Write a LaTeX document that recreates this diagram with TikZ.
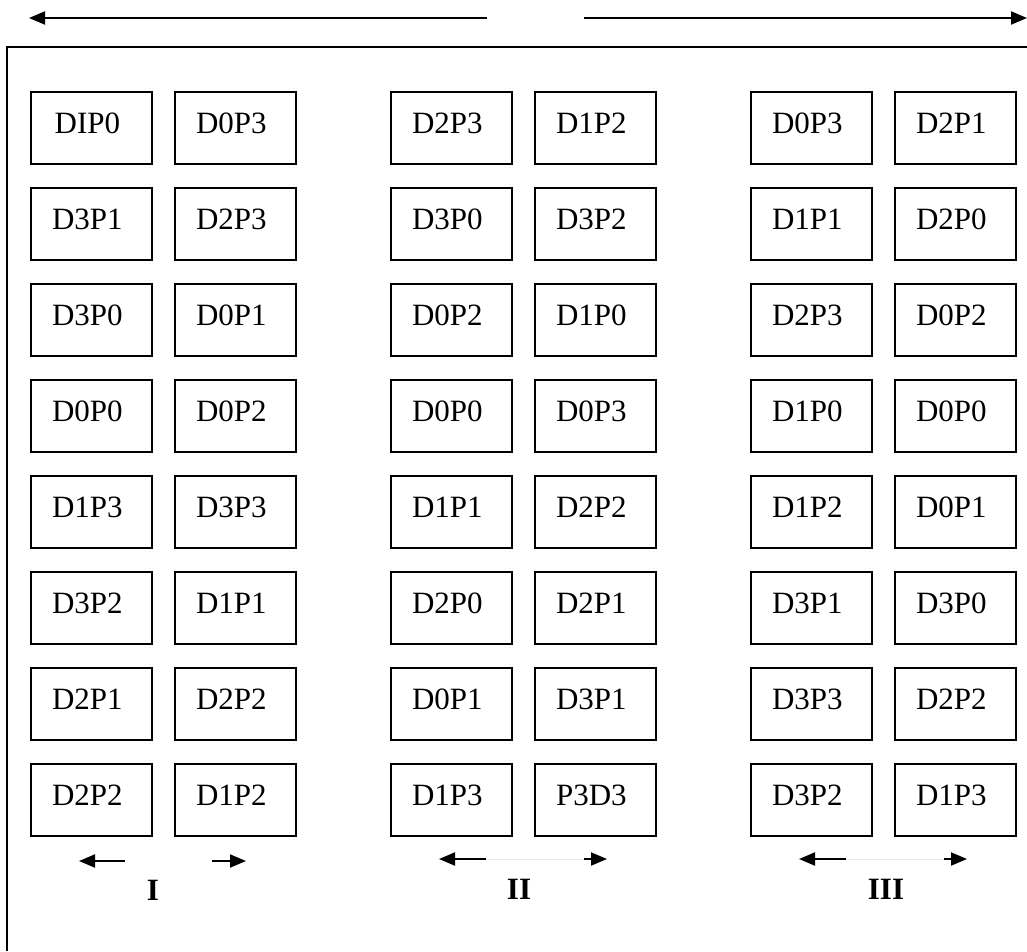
\documentclass[tikz,border=0pt]{standalone}
\usepackage{fontspec}
\setmainfont{Liberation Serif}
\usetikzlibrary{arrows.meta}
\begin{document}
\begin{tikzpicture}[x=1pt,y=-1pt,
  cell/.style={draw=black, line width=1.8pt, minimum width=121pt, minimum height=72pt, inner sep=0pt, anchor=north west},
  celltext/.style={font=\fontsize{31}{36}\selectfont, inner sep=0pt, text depth=0pt, xshift=-4pt, yshift=5pt},
  numlab/.style={font=\fontsize{31}{36}\selectfont\bfseries, inner sep=0pt, text depth=0pt},
  arr/.style={line width=2pt, -{Triangle[length=16pt,width=13pt]}},
  faint/.style={draw=black!8, line width=1pt},
  frameline/.style={line width=2pt}]
\useasboundingbox (0,0) rectangle (1027,951);
% top arrows
\coordinate (tl0) at (487,18);
\coordinate (tl1) at (29,18);
\coordinate (tr0) at (584,18);
\coordinate (tr1) at (1027,18);
\draw[arr] (tl0) -- (tl1);
\draw[arr] (tr0) -- (tr1);
% frame (left and top edges)
\coordinate (fa) at (7,951);
\coordinate (fb) at (7,47);
\coordinate (fc) at (1027,47);
\draw[frameline] (fa) -- (fb) -- (fc);
% cells
\foreach \c/\x/\labs in {
  1/30/{DIP0,D3P1,D3P0,D0P0,D1P3,D3P2,D2P1,D2P2},
  2/174/{D0P3,D2P3,D0P1,D0P2,D3P3,D1P1,D2P2,D1P2},
  3/390/{D2P3,D3P0,D0P2,D0P0,D1P1,D2P0,D0P1,D1P3},
  4/534/{D1P2,D3P2,D1P0,D0P3,D2P2,D2P1,D3P1,P3D3},
  5/750/{D0P3,D1P1,D2P3,D1P0,D1P2,D3P1,D3P3,D3P2},
  6/894/{D2P1,D2P0,D0P2,D0P0,D0P1,D3P0,D2P2,D1P3}}{
  \foreach \lab [count=\r from 0] in \labs {
    \node[cell, label={[celltext]center:\lab}] (c\c r\r) at (\x, 91+96*\r) {};
  }
}
% bottom arrows, group I
\coordinate (a1) at (125,861); \coordinate (a1t) at (79,861);
\coordinate (b1) at (212,861); \coordinate (b1t) at (246,861);
\draw[arr] (a1) -- (a1t);
\draw[arr] (b1) -- (b1t);
\node[numlab] (g1) at (153,890) {I};
% group II
\coordinate (a2) at (486,859); \coordinate (a2t) at (439,859);
\coordinate (b2) at (584,859); \coordinate (b2t) at (607,859);
\draw[faint] (a2) -- (b2);
\draw[arr] (a2) -- (a2t);
\draw[arr] (b2) -- (b2t);
\node[numlab] (g2) at (519,889) {II};
% group III
\coordinate (a3) at (846,859); \coordinate (a3t) at (799,859);
\coordinate (b3) at (944,859); \coordinate (b3t) at (967,859);
\draw[faint] (a3) -- (b3);
\draw[arr] (a3) -- (a3t);
\draw[arr] (b3) -- (b3t);
\node[numlab] (g3) at (886,889) {III};
\end{tikzpicture}
\end{document}
